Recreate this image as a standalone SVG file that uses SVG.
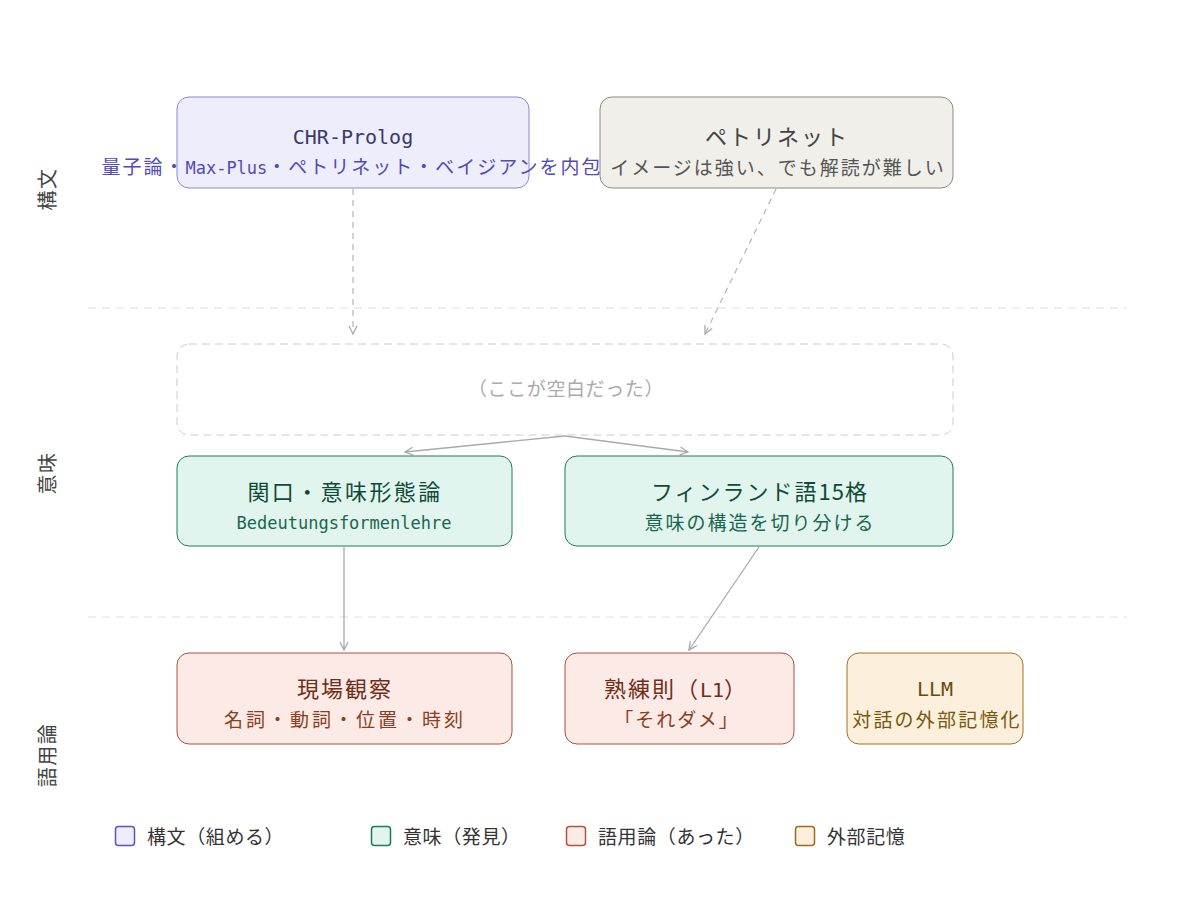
<svg xmlns="http://www.w3.org/2000/svg" width="1200" height="918" viewBox="0 0 1200 918">
<style>
text{font-family:"Noto Sans CJK JP","Noto Sans",sans-serif;text-anchor:middle}
.m{font-family:"DejaVu Sans Mono","Liberation Mono","Noto Sans CJK JP",monospace}
.tt{font-size:22px;letter-spacing:2px}
.st{font-size:19px;letter-spacing:2px}
.mt{font-size:20px;letter-spacing:0}
.ms{font-size:17px;letter-spacing:0}
.lane{font-size:20px;fill:#444;letter-spacing:1.5px}
.div{stroke:#dddddd;stroke-width:1;stroke-dasharray:8 6}
.syn{fill:#ededfc;stroke:#8b87d8;stroke-width:1}
.pet{fill:#f0efea;stroke:#8a8a85;stroke-width:1}
.sem{fill:#e1f5ee;stroke:#1d7a5c;stroke-width:1}
.pra{fill:#fbeae6;stroke:#a9533a;stroke-width:1}
.ext{fill:#fcefdc;stroke:#a0701f;stroke-width:1}
.edge{fill:none;stroke:#aaaaaa;stroke-width:1.3;marker-end:url(#arr)}
.dash{stroke:#bbbbbb;stroke-dasharray:6 5}
.leg{font-size:19px;fill:#333;letter-spacing:0.6px;text-anchor:start}
</style>
<defs>
<marker id="arr" viewBox="0 0 10 10" refX="9" refY="5" markerWidth="10" markerHeight="10" markerUnits="userSpaceOnUse" orient="auto">
<path d="M1,1 L9,5 L1,9" fill="none" stroke="#aaaaaa" stroke-width="1.3"/>
</marker>
</defs>
<rect width="1200" height="918" fill="#ffffff"/>

<g id="lanes">
<line class="div" x1="88" y1="308" x2="1127" y2="308"/>
<line class="div" x1="88" y1="617" x2="1127" y2="617"/>
<text class="lane" transform="translate(46,189) rotate(-90)" dominant-baseline="central">構文</text>
<text class="lane" transform="translate(46,473) rotate(-90)" dominant-baseline="central">意味</text>
<text class="lane" transform="translate(46,755) rotate(-90)" dominant-baseline="central">語用論</text>
</g>

<g id="connectors">
<line class="edge dash" x1="353" y1="189" x2="353" y2="334"/>
<line class="edge dash" x1="776" y1="189" x2="705" y2="334"/>
<line class="edge" x1="565" y1="436" x2="405" y2="452"/>
<line class="edge" x1="565" y1="436" x2="688" y2="452"/>
<line class="edge" x1="344" y1="547" x2="344" y2="650"/>
<line class="edge" x1="759" y1="547" x2="689" y2="650"/>
</g>

<g id="chr">
<rect class="syn" x="177" y="97" width="352" height="91" rx="12"/>
<text class="m mt" x="353" y="144" fill="#3a3a6a">CHR-Prolog</text>
<text x="352" y="174" fill="#534ab7"><tspan class="st">量子論・</tspan><tspan class="m ms">Max-Plus</tspan><tspan class="st">・ペトリネット・ベイジアンを内包</tspan></text>
</g>

<g id="petri">
<rect class="pet" x="600" y="97" width="353" height="91" rx="12"/>
<text class="tt" x="777" y="145" fill="#444">ペトリネット</text>
<text class="st" x="778" y="175" fill="#555">イメージは強い、でも解読が難しい</text>
</g>

<g id="blank">
<rect x="177" y="344" width="776" height="91" rx="12" fill="none" stroke="#cccccc" stroke-width="1" stroke-dasharray="8 5"/>
<text x="566" y="396" font-size="19" letter-spacing="0.6" fill="#aaaaaa">（ここが空白だった）</text>
</g>

<g id="sekiguchi">
<rect class="sem" x="177" y="456" width="335" height="90" rx="12"/>
<text class="tt" x="345" y="500" fill="#0f4a38" style="letter-spacing:2.4px">関口・意味形態論</text>
<text class="m ms" x="344" y="529" fill="#19664e">Bedeutungsformenlehre</text>
</g>

<g id="finnish">
<rect class="sem" x="565" y="456" width="388" height="90" rx="12"/>
<text x="760" y="500" fill="#0f4a38"><tspan class="tt">フィンランド語</tspan><tspan class="tt" style="letter-spacing:1px">15</tspan><tspan class="tt">格</tspan></text>
<text class="st" x="760" y="530" fill="#19664e">意味の構造を切り分ける</text>
</g>

<g id="genba">
<rect class="pra" x="177" y="653" width="335" height="91" rx="12"/>
<text class="tt" x="345" y="697" fill="#6e2e18">現場観察</text>
<text class="st" x="345" y="727" fill="#8a3d22" style="letter-spacing:3px">名詞・動詞・位置・時刻</text>
</g>

<g id="jukuren">
<rect class="pra" x="565" y="653" width="229" height="91" rx="12"/>
<text x="676" y="697" fill="#6e2e18"><tspan class="tt">熟練則（</tspan><tspan class="m mt">L1</tspan><tspan class="tt">）</tspan></text>
<text class="st" x="677" y="727" fill="#8a3d22">「それダメ」</text>
</g>

<g id="llm">
<rect class="ext" x="847" y="653" width="176" height="91" rx="12"/>
<text class="m mt" x="935" y="696" fill="#6b4a0c">LLM</text>
<text class="st" x="937" y="727" fill="#7a5510" style="letter-spacing:2.2px">対話の外部記憶化</text>
</g>

<g id="legend">
<rect x="115.5" y="826.5" width="19" height="19" rx="3" fill="#ededfc" stroke="#5a50c8" stroke-width="1.5"/>
<text class="leg" x="147" y="844">構文（組める）</text>
<rect x="371.5" y="826.5" width="19" height="19" rx="3" fill="#e1f5ee" stroke="#1d7a5c" stroke-width="1.5"/>
<text class="leg" x="403" y="844">意味（発見）</text>
<rect x="566.5" y="826.5" width="19" height="19" rx="3" fill="#fbeae6" stroke="#b05535" stroke-width="1.5"/>
<text class="leg" x="598" y="844">語用論（あった）</text>
<rect x="795.5" y="826.5" width="19" height="19" rx="3" fill="#fcefdc" stroke="#a06a1f" stroke-width="1.5"/>
<text class="leg" x="827" y="844">外部記憶</text>
</g>
</svg>
